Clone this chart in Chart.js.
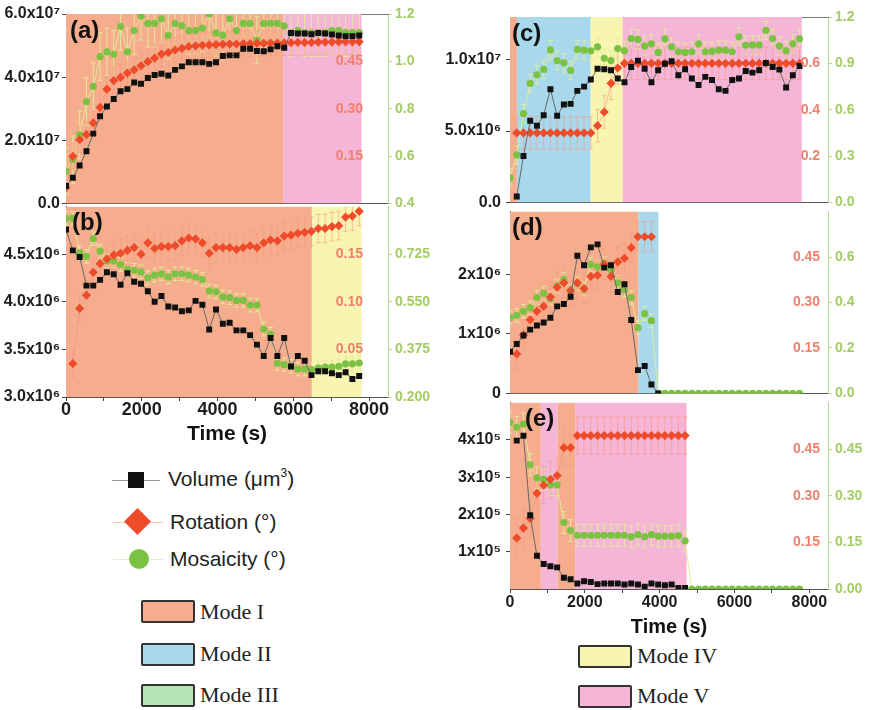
<!DOCTYPE html>
<html>
<head>
<meta charset="utf-8">
<script src="https://cdn.jsdelivr.net/npm/chart.js@4.4.1/dist/chart.umd.min.js"></script>
<style>
  body { margin: 0; background: #fff; width: 871px; height: 710px; position: relative; overflow: hidden;
         font-family: "Liberation Sans", Arial, sans-serif; color: #222; }
  canvas { position: absolute; }
  .ln { position: absolute; height: 1px; }
  .mk { position: absolute; }
  .lt { position: absolute; font-size: 21px; line-height: 24px; white-space: nowrap; }
  .lt sup { font-size: 12px; vertical-align: 9px; line-height: 0; }
  .mb { position: absolute; width: 50px; height: 19px; border: 2px solid #333; border-radius: 2px; }
  .mt { position: absolute; font-family: "Liberation Serif", "Times New Roman", serif; font-size: 22px; line-height: 24px; white-space: nowrap; }
</style>
</head>
<body>
<canvas id="pa" width="440" height="215" style="left:0;top:0"></canvas>
<canvas id="pb" width="440" height="252" style="left:0;top:195px"></canvas>
<canvas id="pc" width="431" height="217" style="left:440px;top:0"></canvas>
<canvas id="pd" width="431" height="211" style="left:440px;top:197px"></canvas>
<canvas id="pe" width="431" height="251" style="left:440px;top:388px"></canvas>

<div class="ln" style="left:112px;top:480px;width:48px;background:#999"></div>
<div class="mk" style="left:128px;top:472px;width:16px;height:16px;background:#111"></div>
<div class="lt" style="left:168px;top:467px">Volume (μm<sup>3</sup>)</div>
<div class="ln" style="left:113px;top:522px;width:50px;background:rgba(240,150,130,0.6)"></div>
<div class="mk" style="left:128px;top:512px;width:19px;height:19px;background:#EE4B2B;transform:rotate(45deg)"></div>
<div class="lt" style="left:170px;top:510px">Rotation (°)</div>
<div class="ln" style="left:113px;top:559px;width:50px;background:rgba(200,225,150,0.5)"></div>
<div class="mk" style="left:129px;top:549px;width:20px;height:20px;background:#7CC242;border-radius:50%"></div>
<div class="lt" style="left:170px;top:547px">Mosaicity (°)</div>

<div class="mb" style="left:141px;top:600px;background:#F6AD8E"></div>
<div class="mt" style="left:200px;top:600px">Mode I</div>
<div class="mb" style="left:141px;top:643px;background:#A9D8EC"></div>
<div class="mt" style="left:200px;top:642px">Mode II</div>
<div class="mb" style="left:141px;top:684px;background:#B7E4B4"></div>
<div class="mt" style="left:200px;top:683px">Mode III</div>
<div class="mb" style="left:578px;top:645px;background:#F8F4B2"></div>
<div class="mt" style="left:637px;top:644px">Mode IV</div>
<div class="mb" style="left:578px;top:685px;background:#F5B5D6"></div>
<div class="mt" style="left:637px;top:684px">Mode V</div>

<script>
// time of each scan (s)
const times = [0,180,360,540,720,900,1080,1260,1440,1620,1800,1980,2160,2340,2520,2700,2880,3060,3240,3420,
  3600,3780,3960,4140,4320,4500,4680,4860,5040,5220,5400,5580,5760,5940,6120,6300,6480,6660,6840,7020,7200,7380,7560,7740];
const xTicks = [0,1000,2000,3000,4000,5000,6000,7000,8000];

// (a) volume in 10^7 um^3
const volA = [0.55,0.81,1.20,1.65,2.21,2.76,3.07,3.31,3.55,3.62,3.83,3.79,3.97,4.07,4.11,4.05,4.23,4.34,4.47,4.47,
  4.47,4.42,4.47,4.67,4.69,4.69,4.90,4.90,4.83,4.82,4.88,4.98,4.93,5.40,5.38,5.38,5.36,5.40,5.38,5.35,5.32,5.30,5.30,5.32];
const rotA = [0.05,0.149,0.202,0.218,0.255,0.304,0.362,0.389,0.399,0.413,0.423,0.436,0.449,0.460,0.473,0.478,0.486,0.491,0.497,0.499,
  0.501,0.502,0.503,0.504,0.505,0.505,0.506,0.506,0.507,0.507,0.508,0.508,0.509,0.509,0.510,0.510,0.510,0.511,0.511,0.511,0.512,0.512,0.512,0.512];
const mosA = [0.536,0.585,0.69,0.83,0.894,1.02,1.04,1.03,1.147,1.04,1.13,1.19,1.16,1.16,1.18,1.11,1.16,1.15,1.13,1.13,
  1.14,1.20,1.12,1.11,1.18,1.13,1.16,1.16,1.09,1.16,1.16,1.16,1.15,1.12,1.13,1.12,1.12,1.12,1.12,1.13,1.13,1.12,1.12,1.12];

// (b) volume in 10^6 um^3
const volB = [4.76,4.54,4.47,4.17,4.17,4.23,4.31,4.29,4.18,4.30,4.21,4.19,4.11,4.00,4.06,3.95,3.94,3.90,3.91,4.01,
  3.97,3.71,3.92,3.77,3.78,3.70,3.70,3.65,3.55,3.43,3.62,3.43,3.62,3.32,3.43,3.38,3.23,3.27,3.27,3.25,3.23,3.26,3.19,3.22];
const rotB = [null,0.035,0.093,0.107,0.131,0.140,0.145,0.149,0.151,0.154,0.157,0.150,0.162,0.156,0.158,0.158,0.159,0.164,0.167,0.166,
  0.162,0.151,0.157,0.157,0.157,0.155,0.157,0.159,0.157,0.162,0.165,0.164,0.169,0.170,0.172,0.173,0.174,0.177,0.177,0.179,0.180,0.189,0.190,0.195];
const mosB = [0.857,0.857,0.73,0.717,0.782,0.736,0.70,0.70,0.687,0.669,0.666,0.66,0.638,0.648,0.653,0.641,0.653,0.653,0.648,0.641,
  0.632,0.59,0.587,0.568,0.565,0.555,0.555,0.538,0.538,0.45,0.431,0.324,0.319,0.313,0.303,0.303,0.301,0.307,0.31,0.31,0.313,0.322,0.322,0.325];

// (c) volume in 10^6 um^3
const volC = [null,0.41,3.26,5.72,5.38,6.11,7.94,6.07,6.86,6.91,7.82,8.12,8.62,9.37,9.33,9.26,8.69,8.42,9.49,9.94,
  9.37,8.42,9.26,9.72,9.90,8.92,9.33,8.69,8.23,8.80,8.58,7.94,7.82,8.58,8.69,9.21,9.10,9.26,9.78,9.49,9.31,8.05,8.92,9.56];
const rotC = [null,0.30,0.30,0.30,0.30,0.30,0.30,0.30,0.30,0.30,0.30,0.30,0.30,0.331,0.39,0.514,0.58,0.60,0.60,0.60,
  0.60,0.60,0.60,0.60,0.60,0.60,0.60,0.60,0.60,0.60,0.60,0.60,0.60,0.60,0.60,0.60,0.60,0.60,0.60,0.60,0.60,0.60,0.60,0.60];
const mosC = [0.16,0.307,0.575,0.77,0.827,0.861,0.987,0.918,0.903,0.855,0.99,0.985,0.981,1.006,0.933,0.918,0.996,0.981,1.061,1.055,
  1.012,1.027,0.971,1.059,1.006,0.975,0.971,0.975,1.027,0.975,0.977,0.985,0.985,0.975,1.072,1.017,1.019,1.019,1.114,1.061,1.012,0.981,1.027,1.059];

// (d) volume in 10^6 um^3
const volD = [0.70,0.83,0.97,1.07,1.14,1.19,1.27,1.46,1.50,1.62,2.31,2.15,2.45,2.50,2.11,2.15,1.70,1.83,1.23,0.39,
  0.46,0.15,0,null,null,null,null,null,null,null,null,null,null,null,null,null,null,null,null,null,null,null,null,null];
const rotD = [null,0.13,0.193,0.243,0.271,0.287,0.318,0.35,0.365,0.339,0.365,0.346,0.386,0.39,0.426,0.386,0.434,0.446,0.481,0.517,
  0.517,0.517,null,null,null,null,null,null,null,null,null,null,null,null,null,null,null,null,null,null,null,null,null,null];
const mosD = [0.334,0.343,0.361,0.376,0.422,0.441,0.418,0.473,0.501,0.452,0.483,0.459,0.567,0.557,0.571,0.543,0.487,0.455,0.422,0.289,
  0.351,0.32,0,0,0,0,0,0,0,0,0,0,0,0,0,0,0,0,0,0,0,0,0,0];

// (e) volume in 10^5 um^3
const volE = [null,3.98,4.11,1.98,0.89,0.67,0.61,0.58,0.30,0.26,0.15,0.21,0.19,0.13,0.15,0.15,0.15,0.12,0.15,0.12,
  0.06,0.15,0.12,0.10,0.12,0.03,0.03,null,null,null,null,null,null,null,null,null,null,null,null,null,null,null,null,null];
const rotE = [null,0.164,0.196,0.227,0.308,0.334,0.353,0.365,0.455,0.455,0.494,0.494,0.494,0.494,0.494,0.494,0.494,0.494,0.494,0.494,
  0.494,0.494,0.494,0.494,0.494,0.494,0.494,null,null,null,null,null,null,null,null,null,null,null,null,null,null,null,null,null];
const mosE = [0.536,0.52,0.531,0.40,0.358,0.353,0.335,0.335,0.214,0.188,0.173,0.173,0.173,0.173,0.173,0.173,0.173,0.173,0.168,0.175,
  0.168,0.175,0.17,0.17,0.17,0.172,0.155,0,0,0,0,0,0,0,0,0,0,0,0,0,0,0,0,0];

// error bar half-widths per panel a..e
const rotErr = [0.04, 0.015, 0.07, 0.05, 0.06];
const mosErr = [0.10, 0.025, 0.06, 0.03, 0.035];

// growth mode intervals [start s, end s, mode]
const modesA = [[0,5730,'I'],[5730,7800,'V']];
const modesB = [[0,6490,'I'],[6490,7800,'IV']];
const modesC = [[0,185,'I'],[185,2157,'II'],[2157,3013,'IV'],[3013,7800,'V']];
const modesD = [[0,3430,'I'],[3430,3965,'II']];
const modesE = [[0,825,'I'],[825,1275,'V'],[1275,1740,'I'],[1740,4720,'V']];
const modeColor = { I: '#F6AD8E', II: '#A9D8EC', III: '#B7E4B4', IV: '#F8F4B2', V: '#F5B5D6' };

// tick values and labels
const volTicksA = [0,2,4,6],        volLabelsA = ['0.0','2.0x10⁷','4.0x10⁷','6.0x10⁷'];
const rotTicksA = [0.15,0.30,0.45], rotLabelsA = ['0.15','0.30','0.45'];
const mosTicksA = [0.4,0.6,0.8,1.0,1.2], mosLabelsA = ['0.4','0.6','0.8','1.0','1.2'];
const volTicksB = [3,3.5,4,4.5],    volLabelsB = ['3.0x10⁶','3.5x10⁶','4.0x10⁶','4.5x10⁶'];
const rotTicksB = [0.05,0.10,0.15], rotLabelsB = ['0.05','0.10','0.15'];
const mosTicksB = [0.2,0.375,0.55,0.725], mosLabelsB = ['0.200','0.375','0.550','0.725'];
const volTicksC = [0,5,10],         volLabelsC = ['0.0','5.0x10⁶','1.0x10⁷'];
const rotTicksC = [0.2,0.4,0.6],    rotLabelsC = ['0.2','0.4','0.6'];
const mosTicksC = [0,0.3,0.6,0.9,1.2], mosLabelsC = ['0.0','0.3','0.6','0.9','1.2'];
const volTicksD = [0,1,2],          volLabelsD = ['0','1x10⁶','2x10⁶'];
const rotTicksD = [0.15,0.30,0.45], rotLabelsD = ['0.15','0.30','0.45'];
const mosTicksD = [0,0.2,0.4,0.6],  mosLabelsD = ['0.0','0.2','0.4','0.6'];
const volTicksE = [1,2,3,4],        volLabelsE = ['1x10⁵','2x10⁵','3x10⁵','4x10⁵'];
const rotTicksE = [0.15,0.30,0.45], rotLabelsE = ['0.15','0.30','0.45'];
const mosTicksE = [0,0.15,0.30,0.45], mosLabelsE = ['0.00','0.15','0.30','0.45'];

const FONT = '"Liberation Sans", Arial, sans-serif';

function pts(vals) {
  return times.map((t, i) => ({ x: t, y: vals[i] }));
}

const backdrop = {
  id: 'backdrop',
  beforeDatasetsDraw(chart, args, o) {
    const { ctx, chartArea: a, scales } = chart;
    const x = scales.x;
    ctx.save();
    ctx.beginPath(); ctx.rect(a.left, a.top, a.right - a.left, a.bottom - a.top); ctx.clip();
    o.modes.forEach(([s, e, m]) => {
      const x1 = x.getPixelForValue(s), x2 = x.getPixelForValue(e);
      ctx.fillStyle = modeColor[m];
      ctx.fillRect(x1, a.top, x2 - x1, a.bottom - a.top);
    });
    // error bars
    const bars = [[o.mos, o.mosErr, scales.yM, 'rgba(226,238,150,0.9)'], [o.rot, o.rotErr, scales.yR, 'rgba(250,150,120,0.55)']];
    ctx.lineWidth = 1;
    bars.forEach(([vals, err, ys, col]) => {
      ctx.strokeStyle = col;
      ctx.beginPath();
      vals.forEach((v, i) => {
        if (v == null || v === 0) return;
        const px = x.getPixelForValue(times[i]);
        const y1 = ys.getPixelForValue(v - err), y2 = ys.getPixelForValue(v + err);
        ctx.moveTo(px, y1); ctx.lineTo(px, y2);
        ctx.moveTo(px - 2.5, y1); ctx.lineTo(px + 2.5, y1);
        ctx.moveTo(px - 2.5, y2); ctx.lineTo(px + 2.5, y2);
      });
      ctx.stroke();
    });
    ctx.restore();
  },
  afterDraw(chart, args, o) {
    const { ctx, chartArea: a } = chart;
    ctx.save();
    ctx.fillStyle = '#111';
    ctx.font = 'bold 24px ' + FONT;
    ctx.textBaseline = 'middle';
    ctx.fillText(o.letter, a.left + o.letterDx, a.top + 17);
    ctx.restore();
  }
};

function setTicks(list) {
  return s => { s.ticks = list.map(v => ({ value: v })); };
}

function panel(p) {
  const tickFont = { family: FONT, size: 16, weight: 'bold' };
  const sideFont = { family: FONT, size: 14, weight: 'bold' };
  const scales = {
    x: {
      type: 'linear', min: 0, max: 8500, position: 'bottom',
      afterBuildTicks: setTicks(xTicks),
      ticks: { display: p.bottom, color: '#1e1e1e', padding: p.xPad, autoSkip: false, maxRotation: 0, minRotation: 0,
               font: { family: FONT, size: p.xFont, weight: 'bold' },
               callback: v => (v % 2000 === 0 ? String(v) : '') },
      grid: { drawOnChartArea: false, drawTicks: p.bottom, tickLength: 4, color: '#444' },
      border: { color: '#555' },
      title: { display: p.bottom, text: 'Time (s)', color: '#111', padding: 0,
               font: { family: FONT, size: p.titleFont, weight: 'bold' } },
      afterFit: s => { s.height = p.bottom ? 50 : 0; }
    },
    yV: {
      position: 'left', min: p.volMin, max: p.volMax,
      afterBuildTicks: setTicks(p.volTicks),
      ticks: { color: '#1e1e1e', font: tickFont, padding: p.leftPad, callback: (v, i) => p.volLabels[i] },
      grid: { drawOnChartArea: false, tickLength: 4, color: '#444' },
      border: { color: '#444' },
      afterFit: s => { s.width = p.leftW; }
    },
    yR: {
      position: { x: p.redAt }, min: 0, max: p.rotMax,
      afterBuildTicks: setTicks(p.rotTicks),
      ticks: { z: 1, color: '#EF7F6E', font: sideFont, callback: (v, i) => p.rotLabels[i] },
      grid: { display: false },
      border: { display: false }
    },
    yM: {
      position: 'right', min: p.mosMin, max: p.mosMax,
      afterBuildTicks: setTicks(p.mosTicks),
      ticks: { color: '#A3CC66', font: sideFont, padding: 3, callback: (v, i) => p.mosLabels[i] },
      grid: { drawOnChartArea: false, tickLength: 4, color: '#B5D98A' },
      border: { color: '#B5D98A' },
      afterFit: s => { s.width = p.rightW; }
    }
  };
  if (p.topLine) {
    scales.x2 = {
      type: 'linear', min: 0, max: 8500, position: 'top',
      ticks: { display: false }, grid: { drawOnChartArea: false, drawTicks: false },
      border: { color: '#777' }, afterFit: s => { s.height = 0; }
    };
  }
  new Chart(document.getElementById(p.id), {
    type: 'line',
    data: {
      datasets: [
        { data: pts(p.vol), yAxisID: 'yV', borderColor: '#666', borderWidth: 1,
          pointStyle: 'rect', pointRadius: 4.2, pointBackgroundColor: '#111', pointBorderWidth: 0 },
        { data: pts(p.rot), yAxisID: 'yR', borderColor: 'rgba(240,140,120,0.55)', borderWidth: 1,
          pointStyle: 'rectRot', pointRadius: 4.6, pointBackgroundColor: '#EE4B2B', pointBorderWidth: 0 },
        { data: pts(p.mos), yAxisID: 'yM', borderColor: 'rgba(222,236,150,0.95)', borderWidth: 1,
          pointStyle: 'circle', pointRadius: 3.6, pointBackgroundColor: '#7CC242', pointBorderWidth: 0 }
      ]
    },
    options: {
      responsive: false, animation: false, devicePixelRatio: 1,
      layout: { padding: { top: p.padTop, bottom: p.padBottom, left: 0, right: 0 } },
      plugins: {
        legend: { display: false }, tooltip: { enabled: false },
        backdrop: { modes: p.modes, rot: p.rot, mos: p.mos, rotErr: p.rotErr, mosErr: p.mosErr,
                    letter: p.letter, letterDx: p.letterDx }
      },
      scales
    },
    plugins: [backdrop]
  });
}

const leftCol = { leftW: 66, rightW: 52, redAt: 7840, leftPad: 2, xFont: 18, titleFont: 21, xPad: -2 };
const rightCol = { leftW: 70, rightW: 43, redAt: 8290, leftPad: 5, xFont: 16, titleFont: 20, xPad: 0 };

panel({ ...leftCol, id: 'pa', letter: '(a)', letterDx: 4, padTop: 14, padBottom: 10, bottom: false, topLine: true,
  vol: volA, rot: rotA, mos: mosA, modes: modesA, rotErr: rotErr[0], mosErr: mosErr[0],
  volMin: 0, volMax: 6, volTicks: volTicksA, volLabels: volLabelsA,
  rotMax: 0.6, rotTicks: rotTicksA, rotLabels: rotLabelsA,
  mosMin: 0.4, mosMax: 1.2, mosTicks: mosTicksA, mosLabels: mosLabelsA });
panel({ ...leftCol, id: 'pb', letter: '(b)', letterDx: 6, padTop: 10, padBottom: 0, bottom: true, topLine: false,
  vol: volB, rot: rotB, mos: mosB, modes: modesB, rotErr: rotErr[1], mosErr: mosErr[1],
  volMin: 3, volMax: 5, volTicks: volTicksB, volLabels: volLabelsB,
  rotMax: 0.2, rotTicks: rotTicksB, rotLabels: rotLabelsB,
  mosMin: 0.2, mosMax: 0.9, mosTicks: mosTicksB, mosLabels: mosLabelsB });
panel({ ...rightCol, id: 'pc', letter: '(c)', letterDx: 2, padTop: 17, padBottom: 10, bottom: false, topLine: true,
  vol: volC, rot: rotC, mos: mosC, modes: modesC, rotErr: rotErr[2], mosErr: mosErr[2],
  volMin: 0, volMax: 13, volTicks: volTicksC, volLabels: volLabelsC,
  rotMax: 0.8, rotTicks: rotTicksC, rotLabels: rotLabelsC,
  mosMin: 0, mosMax: 1.2, mosTicks: mosTicksC, mosLabels: mosLabelsC });
panel({ ...rightCol, id: 'pd', letter: '(d)', letterDx: 2, padTop: 10, padBottom: 10, bottom: false, topLine: false,
  vol: volD, rot: rotD, mos: mosD, modes: modesD, rotErr: rotErr[3], mosErr: mosErr[3],
  volMin: 0, volMax: 3.05, volTicks: volTicksD, volLabels: volLabelsD,
  rotMax: 0.6, rotTicks: rotTicksD, rotLabels: rotLabelsD,
  mosMin: 0, mosMax: 0.8, mosTicks: mosTicksD, mosLabels: mosLabelsD });
panel({ ...rightCol, id: 'pe', letter: '(e)', letterDx: 15, padTop: 10, padBottom: 0, bottom: true, topLine: false,
  vol: volE, rot: rotE, mos: mosE, modes: modesE, rotErr: rotErr[4], mosErr: mosErr[4],
  volMin: 0, volMax: 5, volTicks: volTicksE, volLabels: volLabelsE,
  rotMax: 0.6, rotTicks: rotTicksE, rotLabels: rotLabelsE,
  mosMin: 0, mosMax: 0.6, mosTicks: mosTicksE, mosLabels: mosLabelsE });
</script>
</body>
</html>
